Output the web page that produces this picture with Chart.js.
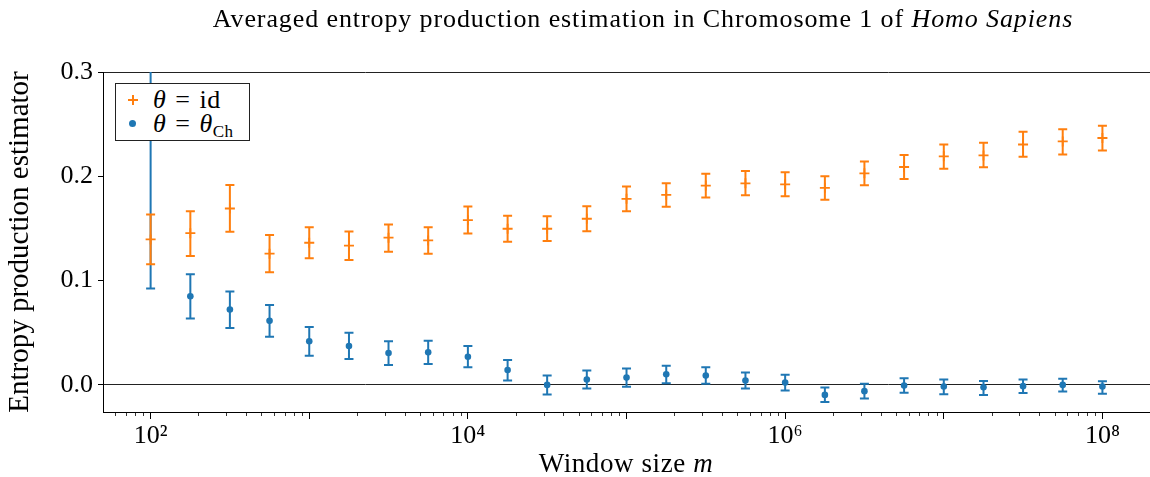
<!DOCTYPE html>
<html>
<head>
<meta charset="utf-8">
<script src="https://cdn.jsdelivr.net/npm/chart.js@4.4.0/dist/chart.umd.min.js"></script>
<style>
  html, body { margin: 0; padding: 0; background: #fff; overflow: hidden; }
  #wrap { position: relative; width: 1150px; height: 477px; overflow: hidden; font-family: "Liberation Serif", serif; color: #000; }
  #title { position: absolute; top: 4px; left: 0; width: 1286px; text-align: center; font-size: 26px; letter-spacing: 0.9px; line-height: 30px; white-space: nowrap; }
  #xtitle { position: absolute; top: 448px; left: 103px; width: 1046px; text-align: center; font-size: 27px; letter-spacing: 0.6px; line-height: 30px; white-space: nowrap; }
  #legend { position: absolute; left: 115px; top: 83px; width: 133px; height: 56px; border: 1px solid #222; background: #fff; font-size: 26px; }
  #legend .row { position: absolute; left: 0; height: 26px; line-height: 26px; white-space: nowrap; }
  #legend .txt { position: absolute; left: 37px; top: 0; letter-spacing: 0.5px; word-spacing: 2px; }
  #legend i { font-style: italic; }
  #legend sub { font-size: 17px; vertical-align: -5px; line-height: 0; }
  .mk-plus { position: absolute; left: 12px; top: 8px; width: 10px; height: 10px; }
  .mk-plus::before, .mk-plus::after { content: ""; position: absolute; background: #ff7f0e; }
  .mk-plus::before { left: 4px; top: 0; width: 1.8px; height: 10px; }
  .mk-plus::after { left: 0; top: 4px; width: 10px; height: 1.8px; }
  .mk-dot { position: absolute; left: 13px; top: 9px; width: 7px; height: 7px; border-radius: 50%; background: #1f77b4; }
  canvas { position: absolute; left: 0; top: 0; }
</style>
</head>
<body>
<div id="wrap">
  <canvas id="chart" width="1150" height="477"></canvas>
  <div id="title">Averaged entropy production estimation in Chromosome 1 of <i>Homo Sapiens</i></div>
  <div id="xtitle">Window size <i>m</i></div>
  <div id="legend">
    <div class="row" style="top:3px"><span class="mk-plus"></span><span class="txt"><i>θ</i> = id</span></div>
    <div class="row" style="top:27px"><span class="mk-dot"></span><span class="txt"><i>θ</i> = <i>θ</i><sub>Ch</sub></span></div>
  </div>
</div>
<script>
const ORANGE = '#ff7f0e';
const BLUE = '#1f77b4';
const FONT = '"Liberation Serif", serif';

// window sizes m (log-spaced, 4 per decade)
const windowSizes = [1e2, 1.78e2, 3.16e2, 5.62e2, 1e3, 1.78e3, 3.16e3, 5.62e3,
  1e4, 1.78e4, 3.16e4, 5.62e4, 1e5, 1.78e5, 3.16e5, 5.62e5,
  1e6, 1.78e6, 3.16e6, 5.62e6, 1e7, 1.78e7, 3.16e7, 5.62e7, 1e8];

// theta = id
const idMean = [0.1395, 0.1455, 0.1691, 0.1258, 0.1363, 0.1335, 0.1411, 0.1385,
  0.1579, 0.1497, 0.1497, 0.1593, 0.1784, 0.1822, 0.1911, 0.1933,
  0.1923, 0.1889, 0.2028, 0.2089, 0.2191, 0.2200, 0.2305, 0.2334, 0.2367];
const idLow = [0.1156, 0.1235, 0.1468, 0.1080, 0.1213, 0.1198, 0.1277, 0.1258,
  0.1452, 0.1373, 0.1379, 0.1474, 0.1665, 0.1707, 0.1796, 0.1818,
  0.1809, 0.1774, 0.1914, 0.1975, 0.2073, 0.2086, 0.2188, 0.2210, 0.2248];
const idHigh = [0.1634, 0.1665, 0.1917, 0.1436, 0.1512, 0.1471, 0.1538, 0.1512,
  0.1710, 0.1621, 0.1617, 0.1713, 0.1901, 0.1933, 0.2025, 0.2051,
  0.2038, 0.2000, 0.2143, 0.2204, 0.2305, 0.2322, 0.2427, 0.2452, 0.2484];

// theta = theta_Ch (first point lies above the plotted range)
const chMean = [0.330, 0.0850, 0.0723, 0.0614, 0.0418, 0.0373, 0.0306, 0.0312,
  0.0270, 0.0143, 0.0000, 0.0051, 0.0070, 0.0102, 0.0089, 0.0041,
  0.0022, -0.0096, -0.0060, -0.0007, -0.0016, -0.0022, -0.0012, 0.0000, -0.0016];
const chLow = [0.0924, 0.0637, 0.0545, 0.0461, 0.0280, 0.0248, 0.0191, 0.0201,
  0.0169, 0.0041, -0.0093, -0.0035, -0.0019, 0.0016, 0.0010, -0.0035,
  -0.0054, -0.0165, -0.0131, -0.0076, -0.0089, -0.0096, -0.0079, -0.0064, -0.0086];
const chHigh = [0.5680, 0.1060, 0.0895, 0.0767, 0.0554, 0.0500, 0.0418, 0.0423,
  0.0373, 0.0239, 0.0089, 0.0137, 0.0156, 0.0184, 0.0169, 0.0118,
  0.0096, -0.0026, 0.0010, 0.0064, 0.0051, 0.0038, 0.0051, 0.0060, 0.0035];

const xTickValues = [1e2, 1e3, 1e4, 1e5, 1e6, 1e7, 1e8];
const xTickLabels = ['10²', '', '10⁴', '', '10⁶', '', '10⁸'];
const yTickValues = [0, 0.1, 0.2, 0.3];
const yTickLabels = ['0.0', '0.1', '0.2', '0.3'];

// vertical error bars with caps, drawn under each dataset's markers
const errorBars = {
  id: 'errorBars',
  beforeDatasetDraw(chart, args) {
    const ds = chart.data.datasets[args.index];
    if (!ds.errLow) return;
    const xs = chart.scales.x, ys = chart.scales.y, a = chart.chartArea;
    const c = chart.ctx;
    c.save();
    c.beginPath();
    c.rect(a.left, a.top, a.right - a.left, a.bottom - a.top);
    c.clip();
    c.strokeStyle = ds.borderColor;
    c.lineWidth = 2;
    ds.data.forEach((p, i) => {
      const px = xs.getPixelForValue(p.x);
      const top = ys.getPixelForValue(ds.errHigh[i]);
      const bot = ys.getPixelForValue(ds.errLow[i]);
      c.beginPath();
      c.moveTo(px, top); c.lineTo(px, bot);
      c.moveTo(px - 4.5, top); c.lineTo(px + 4.5, top);
      c.moveTo(px - 4.5, bot); c.lineTo(px + 4.5, bot);
      c.stroke();
    });
    c.restore();
  }
};

// short minor ticks on the log axis (2..9 x 10^k)
const minorTicks = {
  id: 'minorTicks',
  afterDraw(chart) {
    const xs = chart.scales.x, a = chart.chartArea, c = chart.ctx;
    c.save();
    c.strokeStyle = '#000';
    c.lineWidth = 0.8;
    for (let k = 1; k <= 8; k++) {
      for (let m = 2; m <= 9; m++) {
        const v = m * Math.pow(10, k);
        if (v < xs.min || v > xs.max) continue;
        const px = Math.round(xs.getPixelForValue(v)) + 0.5;
        c.beginPath();
        c.moveTo(px, a.bottom);
        c.lineTo(px, a.bottom + 4);
        c.stroke();
      }
    }
    c.restore();
  }
};

const ctx = document.getElementById('chart').getContext('2d');
const chart = new Chart(ctx, {
  type: 'scatter',
  data: {
    datasets: [{
      label: 'θ = id',
      data: windowSizes.map((x, i) => ({ x: x, y: idMean[i] })),
      errLow: idLow,
      errHigh: idHigh,
      pointStyle: 'cross',
      pointRadius: 5,
      pointBorderWidth: 1.8,
      borderColor: ORANGE,
      backgroundColor: ORANGE,
      clip: 4
    }, {
      label: 'θ = θCh',
      data: windowSizes.map((x, i) => ({ x: x, y: chMean[i] })),
      errLow: chLow,
      errHigh: chHigh,
      pointStyle: 'circle',
      pointRadius: 3.3,
      pointBorderWidth: 0,
      borderColor: BLUE,
      backgroundColor: BLUE,
      clip: 4
    }]
  },
  options: {
    responsive: false,
    animation: false,
    layout: { autoPadding: false, padding: { top: 72, right: 0, left: 0, bottom: 0 } },
    plugins: { legend: { display: false }, tooltip: { enabled: false } },
    scales: {
      x: {
        type: 'logarithmic',
        min: 50.1,
        max: 1.995e8,
        afterBuildTicks: s => { s.ticks = xTickValues.map(v => ({ value: v })); },
        afterFit: s => { s.height = 65; s.paddingLeft = 0; s.paddingRight = 0; },
        ticks: {
          autoSkip: false,
          maxRotation: 0,
          padding: 2,
          color: '#000',
          font: { family: FONT, size: 26 },
          callback: (v, i) => xTickLabels[i]
        },
        grid: { drawOnChartArea: false, tickLength: 7, color: '#000', tickWidth: 1 },
        border: { color: '#000', width: 1 }
      },
      y: {
        min: -0.026,
        max: 0.3,
        afterBuildTicks: s => { s.ticks = yTickValues.map(v => ({ value: v })); },
        afterFit: s => { s.width = 103; s.paddingTop = 0; s.paddingBottom = 0; },
        ticks: {
          padding: 5,
          color: '#000',
          font: { family: FONT, size: 26 },
          callback: (v, i) => yTickLabels[i]
        },
        grid: {
          color: c => (c.tick && (c.tick.value === 0 || c.tick.value === 0.3)) ? '#222' : 'rgba(0,0,0,0)',
          tickColor: '#000',
          tickLength: 5,
          lineWidth: 1
        },
        border: { color: '#000', width: 1 },
        title: {
          display: true,
          text: 'Entropy production estimator',
          color: '#000',
          font: { family: FONT, size: 29 },
          padding: { top: 3, bottom: 0 }
        }
      }
    }
  },
  plugins: [errorBars, minorTicks]
});
</script>
</body>
</html>
